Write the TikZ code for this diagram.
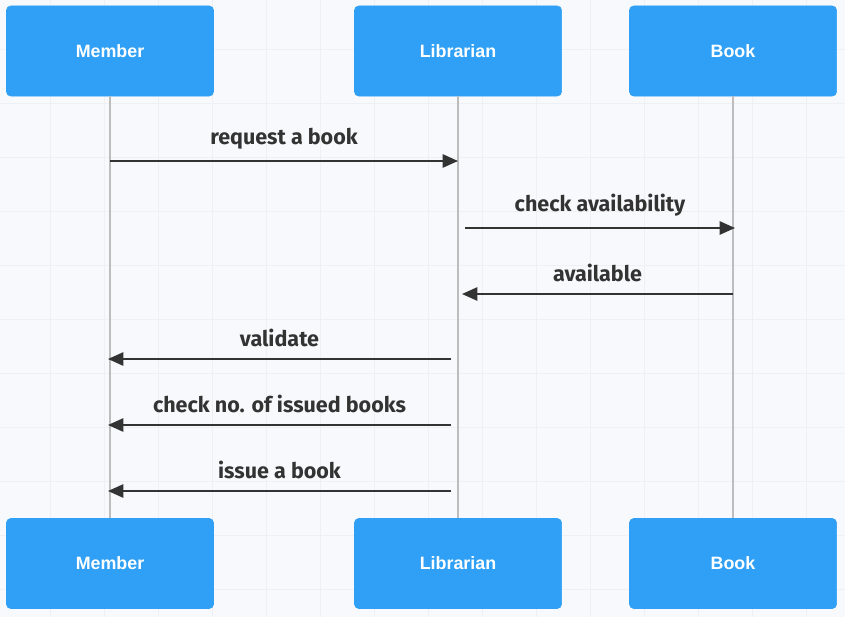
\documentclass[tikz,border=0pt]{standalone}
\usepackage{fontspec}
\setmainfont{Fira Sans}
\newfontfamily\boxfont{Liberation Sans}
\usepackage{tikz}
\usetikzlibrary{arrows.meta,positioning}
\definecolor{actorblue}{HTML}{2FA0F5}
\definecolor{msgdark}{HTML}{333333}
\definecolor{lifegrey}{HTML}{BDBDBD}
\definecolor{paper}{HTML}{F8F9FC}
\definecolor{gridline}{HTML}{EFF0F4}
\tikzset{
  actorbox/.style={
    rectangle, rounded corners=3pt, draw=actorblue, fill=actorblue,
    minimum width=5.175cm, minimum height=2.25cm,
    font=\boxfont\bfseries\fontsize{12.7}{14}\selectfont, text=white,
    inner sep=0pt
  },
  lifeline/.style={draw=lifegrey, line width=0.9pt},
  msgarrow/.style={
    -{Triangle[length=11pt, width=9.5pt]}, line width=1.4pt, color=msgdark
  },
  msglabel/.style={font=\bfseries\fontsize{15.3}{18}\selectfont,
    text=msgdark, above=4.5pt},
}
\begin{document}
\begin{tikzpicture}[x=0.025cm, y=-0.025cm]
  \useasboundingbox (0,0) rectangle (845,617);
  \fill[paper] (0,0) rectangle (845,617);
  % background grid
  \foreach \gx in {50,104,...,845} \draw[gridline, line width=0.6pt] (\gx,0) -- (\gx,617);
  \foreach \gy in {49,103,...,617} \draw[gridline, line width=0.6pt] (0,\gy) -- (845,\gy);
  % actors
  \node[actorbox] (memtop) at (110,51) {Member};
  \node[actorbox] (libtop) at (458,51) {Librarian};
  \node[actorbox] (booktop) at (733,51) {Book};
  \node[actorbox] (membot) at (110,563.5) {Member};
  \node[actorbox] (libbot) at (458,563.5) {Librarian};
  \node[actorbox] (bookbot) at (733,563.5) {Book};
  % lifelines
  \draw[lifeline] (memtop) -- (membot);
  \draw[lifeline] (libtop) -- (libbot);
  \draw[lifeline] (booktop) -- (bookbot);
  % message rows
  \coordinate (r1) at (0,161);
  \coordinate (r2) at (0,228);
  \coordinate (r3) at (0,294);
  \coordinate (r4) at (0,359);
  \coordinate (r5) at (0,425);
  \coordinate (r6) at (0,491);
  \draw[msgarrow] (memtop |- r1) -- node[msglabel] {request a book} (libtop |- r1);
  \draw[msgarrow] ([xshift=0.175cm]libtop |- r2) -- node[msglabel] {check availability} ([xshift=0.05cm]booktop |- r2);
  \draw[msgarrow] (booktop |- r3) -- node[msglabel] {available} ([xshift=0.1cm]libtop |- r3);
  \draw[msgarrow] ([xshift=-0.175cm]libtop |- r4) -- node[msglabel] {validate} ([xshift=-0.05cm]memtop |- r4);
  \draw[msgarrow] ([xshift=-0.175cm]libtop |- r5) -- node[msglabel] {check no. of issued books} ([xshift=-0.05cm]memtop |- r5);
  \draw[msgarrow] ([xshift=-0.175cm]libtop |- r6) -- node[msglabel] {issue a book} ([xshift=-0.05cm]memtop |- r6);
\end{tikzpicture}
\end{document}
